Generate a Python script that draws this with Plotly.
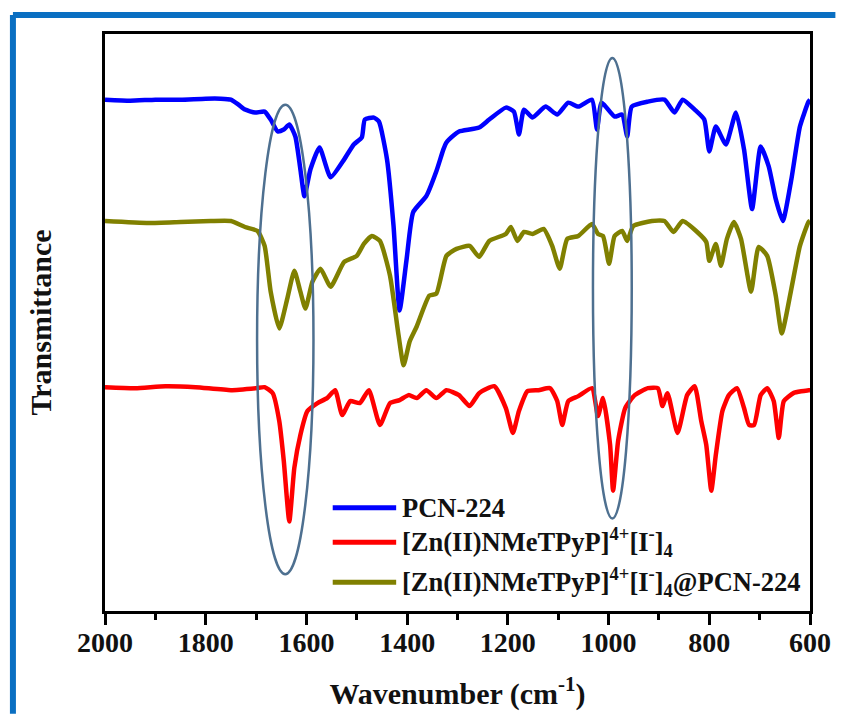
import plotly.graph_objects as go

# FTIR spectra, stacked (arbitrary transmittance units, vertical offsets included)
series_names = [
    "PCN-224",
    "[Zn(II)NMeTPyP]<sup>4+</sup>[I<sup>-</sup>]<sub>4</sub>",
    "[Zn(II)NMeTPyP]<sup>4+</sup>[I<sup>-</sup>]<sub>4</sub>@PCN-224",
]
series_colors = ["#0000FF", "#FF0000", "#808000"]

pcn_wn = [2000, 1950, 1900, 1850, 1800, 1770, 1750, 1735, 1722, 1702, 1683, 1671,
          1657, 1645, 1634, 1622, 1612, 1604, 1592, 1574, 1552, 1525, 1506, 1490,
          1484, 1466, 1456, 1440, 1427, 1415, 1401, 1388, 1362, 1342, 1328, 1322,
          1308, 1297, 1257, 1237, 1204, 1188, 1178, 1168, 1151, 1125, 1102, 1080,
          1060, 1033, 1023, 1014, 988, 973, 963, 954, 922, 889, 869, 853, 829,
          810, 800, 787, 767, 747, 731, 715, 698, 682, 668, 654, 637, 620, 603, 600]
pcn_t = [514, 513, 514, 514, 515, 515, 514, 509, 504, 501, 502, 494,
         482, 484, 489, 477, 444, 417, 444, 466, 436, 454, 469, 476,
         494, 496, 492, 454, 387, 302, 354, 401, 417, 442, 464, 471,
         478, 482, 486, 494, 506, 502, 479, 504, 496, 507, 499, 511,
         507, 514, 484, 511, 497, 499, 477, 507, 512, 514, 501, 514, 504,
         494, 462, 487, 469, 501, 464, 404, 467, 447, 414, 392, 434, 487, 512, 514]

zn_wn = [2000, 1940, 1880, 1820, 1750, 1700, 1683, 1667, 1654, 1645, 1634, 1624,
         1612, 1598, 1578, 1559, 1543, 1529, 1513, 1494, 1476, 1454, 1434, 1415,
         1397, 1381, 1362, 1342, 1322, 1297, 1276, 1257, 1227, 1204, 1190, 1178,
         1161, 1139, 1116, 1102, 1092, 1080, 1060, 1033, 1021, 1011, 997, 991,
         981, 967, 948, 922, 902, 893, 883, 863, 844, 829, 816, 806, 796, 787,
         774, 761, 745, 731, 721, 711, 698, 685, 672, 662, 652, 633, 603, 600]
zn_t = [225, 224, 226, 225, 222, 224, 225, 219, 191, 151, 90, 144,
        177, 201, 209, 214, 222, 197, 211, 209, 222, 187, 209, 212,
        217, 214, 222, 214, 222, 217, 206, 219, 226, 204, 179, 201,
        221, 222, 224, 211, 187, 211, 216, 224, 196, 214, 167, 121,
        171, 204, 217, 224, 224, 206, 219, 179, 217, 226, 191, 167, 121, 157,
        201, 217, 224, 204, 187, 187, 217, 224, 211, 174, 211, 219, 222, 222]

comp_wn = [2000, 1913, 1850, 1790, 1750, 1722, 1697, 1683, 1671, 1654, 1638, 1624,
           1612, 1602, 1588, 1572, 1552, 1525, 1500, 1486, 1470, 1454, 1434, 1417,
           1407, 1395, 1381, 1356, 1342, 1322, 1302, 1276, 1257, 1237, 1204, 1194,
           1181, 1168, 1151, 1129, 1112, 1097, 1082, 1060, 1033, 1021, 1011, 999,
           988, 973, 963, 951, 914, 889, 871, 853, 824, 806, 800, 787, 777, 765,
           751, 737, 717, 702, 685, 668, 656, 637, 620, 603, 600]
comp_t = [392, 390, 391, 392, 392, 386, 382, 367, 321, 284, 314, 342,
          321, 304, 331, 344, 326, 351, 357, 369, 377, 372, 337, 277,
          247, 271, 286, 317, 319, 357, 364, 367, 356, 372, 379, 386,
          372, 381, 379, 384, 367, 344, 374, 377, 389, 379, 377, 349,
          377, 382, 372, 387, 392, 392, 381, 392, 381, 371, 352, 369, 347, 374,
          391, 374, 321, 366, 357, 317, 279, 324, 367, 391, 392]

# Highlighted band regions: [wn_high, wn_low, t_low, t_high]
band_boxes = [[1698, 1586, 37, 509], [1031, 954, 93, 556]]

x_range = [2000, 600]
y_range = [0, 580]
x_ticks = [2000, 1800, 1600, 1400, 1200, 1000, 800, 600]

serif = "Liberation Serif"

fig = go.Figure()
for wn, t, name, color in [(pcn_wn, pcn_t, series_names[0], series_colors[0]),
                           (zn_wn, zn_t, series_names[1], series_colors[1]),
                           (comp_wn, comp_t, series_names[2], series_colors[2])]:
    fig.add_trace(go.Scatter(x=wn, y=t, mode="lines", name=name,
                             line=dict(color=color, width=4.5, shape="spline", smoothing=0.5),
                             showlegend=False))

for x0, x1, y0, y1 in band_boxes:
    fig.add_shape(type="circle", xref="x", yref="y", x0=x0, x1=x1, y0=y0, y1=y1,
                  line=dict(color="#4E7090", width=2.5), layer="above")

# Legend drawn by hand: sample line + label per series
legend_rows = [0.179, 0.119, 0.050]
for name, color, yp in zip(series_names, series_colors, legend_rows):
    fig.add_shape(type="line", xref="paper", yref="paper", x0=0.323, x1=0.413,
                  y0=yp, y1=yp, line=dict(color=color, width=5))
    fig.add_annotation(xref="paper", yref="paper", x=0.418, y=yp, text=f"<b>{name}</b>",
                       showarrow=False, xanchor="left", yanchor="middle",
                       font=dict(family=serif, size=26.5, color="#111111"))

# Blue page border along the left and top edges
border = dict(color="#0A6FC2", width=6)
fig.add_shape(type="line", xref="paper", yref="paper",
              x0=-0.1306, x1=-0.1306, y0=-0.178, y1=1.0328, line=border)
fig.add_shape(type="line", xref="paper", yref="paper",
              x0=-0.1306, x1=1.036, y0=1.0328, y1=1.0328, line=border)

fig.update_layout(
    width=843, height=718,
    margin=dict(l=105, r=26, t=34, b=104),
    paper_bgcolor="white", plot_bgcolor="white",
    font=dict(family=serif, color="#111111"),
    xaxis=dict(range=x_range, tickvals=x_ticks, ticks="outside", ticklen=11, tickwidth=3,
               tickcolor="black", showline=True, linecolor="black", linewidth=3, mirror=True,
               showgrid=False, zeroline=False, ticklabelstandoff=-7,
               tickfont=dict(family=serif, size=28, weight="bold", color="#111111"),
               minor=dict(dtick=100, ticks="outside", ticklen=6, tickwidth=3, tickcolor="black",
                          showgrid=False),
               title=dict(text="<b>Wavenumber (cm<sup>-1</sup>)</b>",
                          font=dict(family=serif, size=30, color="#111111"), standoff=27)),
    yaxis=dict(range=y_range, showticklabels=False, ticks="", showline=True, linecolor="black",
               linewidth=3, mirror=True, showgrid=False, zeroline=False,
               title=dict(text="<b>Transmittance</b>",
                          font=dict(family=serif, size=30, color="#111111"), standoff=42)),
)

fig.write_html("out.html")
